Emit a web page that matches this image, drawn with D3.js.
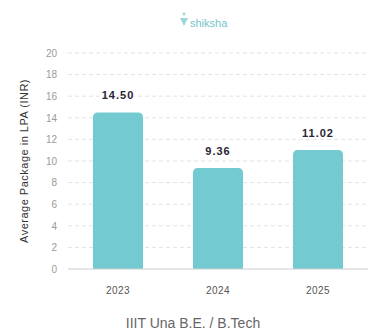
<!DOCTYPE html>
<html>
<head>
<meta charset="utf-8">
<script src="https://cdn.jsdelivr.net/npm/d3@7"></script>
<style>
body { margin: 0; background: #fff; }
svg { display: block; font-family: "Liberation Sans", Arial, sans-serif; }
</style>
</head>
<body>
<svg id="chart"></svg>
<script>
const years = ['2023', '2024', '2025'];
const packages = [14.50, 9.36, 11.02];
const yTicks = [0, 2, 4, 6, 8, 10, 12, 14, 16, 18, 20];

const width = 382, height = 336;
const margin = {top: 53, right: 14, bottom: 67, left: 68};
const innerW = width - margin.left - margin.right;
const innerH = height - margin.top - margin.bottom;

const svg = d3.select('#chart').attr('width', width).attr('height', height);
const chart = svg.append('g').attr('transform', `translate(${margin.left},${margin.top})`);

const x = d3.scaleBand().domain(years).range([0, innerW]).paddingInner(0.5).paddingOuter(0.25);
const y = d3.scaleLinear().domain([0, 20]).range([innerH, 0]);

// grid
chart.append('g').selectAll('line')
    .data(yTicks.filter(d => d > 0))
    .join('line')
    .attr('x1', 0).attr('x2', innerW)
    .attr('y1', d => y(d)).attr('y2', d => y(d))
    .attr('stroke', '#e3e3e3')
    .attr('stroke-dasharray', '4,3');

// y axis
const yAxis = chart.append('g')
    .call(d3.axisLeft(y).tickValues(yTicks).tickSize(0).tickPadding(11));
yAxis.select('.domain').remove();
yAxis.selectAll('text').attr('fill', '#9a9a9a').style('font-size', '10px');

// bars
const data = years.map((d, i) => ({year: d, value: packages[i]}));
chart.selectAll('path.bar')
    .data(data)
    .join('path')
    .attr('class', 'bar')
    .attr('fill', '#74cad1')
    .attr('d', d => {
        const x0 = x(d.year), w = x.bandwidth(), y0 = y(d.value), h = innerH - y0, r = 5;
        return `M${x0},${y0 + r} Q${x0},${y0} ${x0 + r},${y0} L${x0 + w - r},${y0} Q${x0 + w},${y0} ${x0 + w},${y0 + r} L${x0 + w},${y0 + h} L${x0},${y0 + h} Z`;
    });

// baseline
chart.append('line')
    .attr('x1', 0).attr('x2', innerW)
    .attr('y1', innerH).attr('y2', innerH)
    .attr('stroke', '#cccccc');

// value labels
chart.selectAll('text.val')
    .data(data)
    .join('text')
    .attr('class', 'val')
    .attr('x', d => x(d.year) + x.bandwidth() / 2)
    .attr('y', d => y(d.value) - 13)
    .attr('text-anchor', 'middle')
    .attr('fill', '#2b2435')
    .style('font-size', '11px')
    .style('font-weight', 'bold')
    .style('letter-spacing', '1px')
    .text(d => d.value.toFixed(2));

// x axis
const xAxis = chart.append('g')
    .attr('transform', `translate(0,${innerH})`)
    .call(d3.axisBottom(x).tickSize(0).tickPadding(18));
xAxis.select('.domain').remove();
xAxis.selectAll('text').attr('fill', '#555').style('font-size', '10px').style('letter-spacing', '0.5px');

// y label
svg.append('text')
    .attr('transform', `translate(28,${margin.top + innerH / 2}) rotate(-90)`)
    .attr('text-anchor', 'middle')
    .attr('fill', '#333')
    .style('font-size', '11px')
    .style('letter-spacing', '0.5px')
    .text('Average Package in LPA (INR)');

// title
svg.append('text')
    .attr('x', 193).attr('y', 328)
    .attr('text-anchor', 'middle')
    .attr('fill', '#666')
    .style('font-size', '14px')
    .text('IIIT Una B.E. / B.Tech');

// logo
const logo = svg.append('g').attr('transform', 'translate(180,18)');
logo.append('path').attr('d', 'M0,0 L8,0 L4,8 Z').attr('fill', '#9fd6da');
logo.append('circle').attr('cx', 4).attr('cy', -4).attr('r', 1.5).attr('fill', '#9fd6da');
logo.append('text').attr('x', 10).attr('y', 9)
    .attr('fill', '#74c3c9').style('font-size', '11px').text('shiksha');
</script>
</body>
</html>
